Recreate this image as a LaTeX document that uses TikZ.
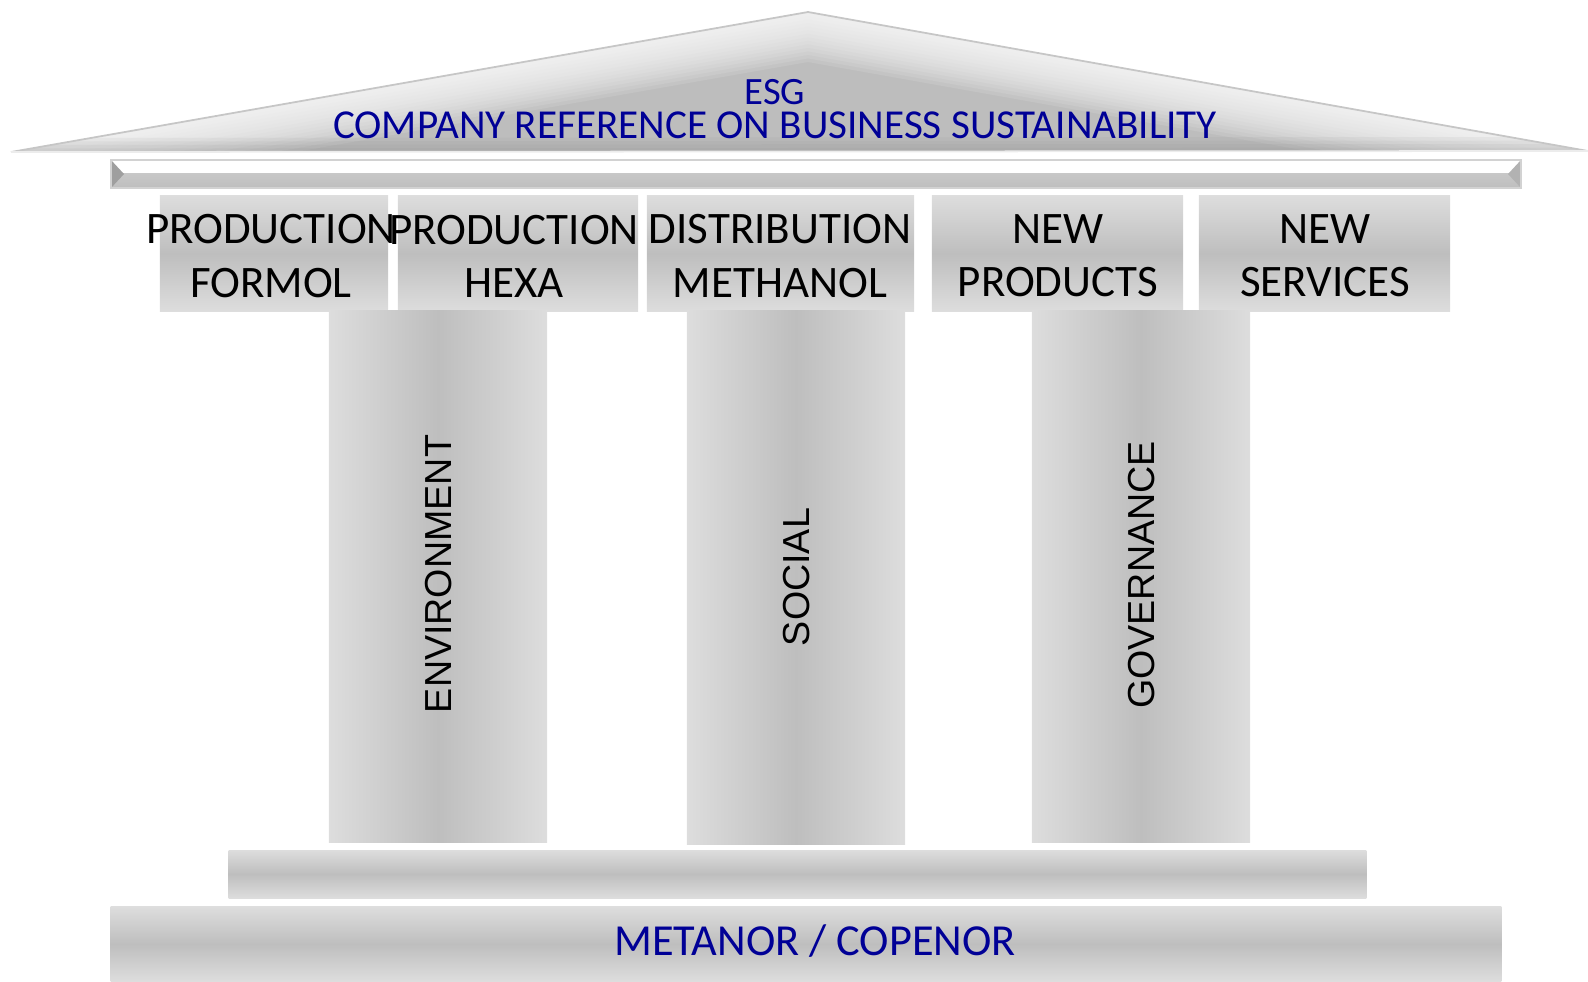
\documentclass[tikz,border=0pt]{standalone}
\usepackage{fontspec}
\setmainfont{Carlito}
\newfontfamily\pillarfont{Liberation Sans}
\definecolor{esgblue}{RGB}{0,0,150}
\definecolor{stonelight}{RGB}{221,221,221}
\definecolor{stonedark}{RGB}{190,190,190}
\definecolor{roofgrey}{RGB}{189,189,189}

\tikzset{
  capbox/.style={inner sep=0pt, minimum height=1.15cm, top color=stonelight, bottom color=stonelight, middle color=stonedark},
  captext/.style={inner sep=0pt, align=center, font=\fontsize{12.8}{15.1}\selectfont},
  pillar/.style={inner sep=0pt, minimum width=2.18cm, left color=stonelight, right color=stonelight, middle color=stonedark},
  pillarlabel/.style={rotate=90, inner sep=0pt, font=\pillarfont\fontsize{10.7}{12}\selectfont},
  slab/.style={inner sep=0pt, top color=stonelight, bottom color=stonelight, middle color=stonedark},
  rooftext/.style={inner sep=0pt, text=esgblue, text depth=0pt, anchor=base},
}

\begin{document}
\begin{tikzpicture}[x=0.01cm, y=-0.01cm]
    \useasboundingbox (0,0) rectangle (1588,981);

    % roof
    \coordinate (roofleft) at (11,152);
    \coordinate (rooftop) at (808,12);
    \coordinate (roofright) at (1588,151);
    \begin{scope}
        \clip (roofleft) -- (rooftop) -- (roofright) -- cycle;
        \fill[roofgrey] (roofleft) -- (rooftop) -- (roofright) -- cycle;
        \foreach \w in {2,4,...,28}
            \draw[white, opacity=0.11, line width=\w pt, line join=round] (roofleft) -- (rooftop) -- (roofright);
        \foreach \w in {2,4,...,8}
            \draw[gray, opacity=0.08, line width=\w pt] (roofleft) -- (roofright);
    \end{scope}
    \draw[gray!45, line width=0.5pt, line join=round] (roofleft) -- (rooftop) -- (roofright);
    \draw[white!85!gray, line width=0.5pt] (roofleft) -- (roofright);

    \node[rooftext, font=\fontsize{11}{12}\selectfont] (esg) at (775,104) {ESG};
    \node[rooftext, font=\fontsize{11.7}{12}\selectfont] (reference) at (775,138) {COMPANY REFERENCE ON BUSINESS SUSTAINABILITY};

    % beam under the roof
    \coordinate (beamnw) at (111,160);
    \coordinate (beamse) at (1521,188);
    \fill[white] (111,160) rectangle (1521,173);
    \shade[top color=stonedark!85!white, bottom color=stonedark] (111,173) rectangle (1521,188);
    \fill[gray!75] (111,160) -- (124,174) -- (111,188) -- cycle;
    \fill[gray!60] (1521,160) -- (1508,174) -- (1521,188) -- cycle;
    \draw[gray!35, line width=0.4pt] (beamnw) rectangle (beamse);

    % capitals
    \node[capbox, minimum width=2.28cm] (formol) at (274,253.5) {};
    \node[capbox, minimum width=2.40cm] (hexa) at (518,253.5) {};
    \node[capbox, minimum width=2.67cm] (methanol) at (780.5,253.5) {};
    \node[capbox, minimum width=2.51cm] (products) at (1057.5,253.5) {};
    \node[capbox, minimum width=2.51cm] (services) at (1324.5,253.5) {};
    \node[captext] (formoltext) at (271,256) {PRODUCTION\\FORMOL};
    \node[captext] (hexatext) at (514,256) {PRODUCTION\\HEXA};
    \node[captext] (methanoltext) at (780,256) {DISTRIBUTION\\METHANOL};
    \node[captext] (productstext) at (1058,256) {NEW\\PRODUCTS};
    \node[captext] (servicestext) at (1325,256) {NEW\\SERVICES};

    % pillars
    \node[pillar, minimum height=5.31cm] (env) at (438,576.5) {};
    \node[pillar, minimum height=5.33cm] (soc) at (796,577.5) {};
    \node[pillar, minimum height=5.31cm] (gov) at (1141,576.5) {};
    \node[pillarlabel] (envlabel) at (439,574) {ENVIRONMENT};
    \node[pillarlabel] (soclabel) at (797,577) {SOCIAL};
    \node[pillarlabel] (govlabel) at (1142,575) {GOVERNANCE};

    % plinth and base
    \node[slab, minimum width=11.37cm, minimum height=0.48cm] (plinth) at (797.5,874) {};
    \node[slab, minimum width=13.90cm, minimum height=0.74cm] (base) at (806,944) {};
    \node[inner sep=0pt, anchor=base, text=esgblue, font=\fontsize{12.6}{14}\selectfont] (owners) at (815,955) {METANOR / COPENOR};

\end{tikzpicture}
\end{document}
